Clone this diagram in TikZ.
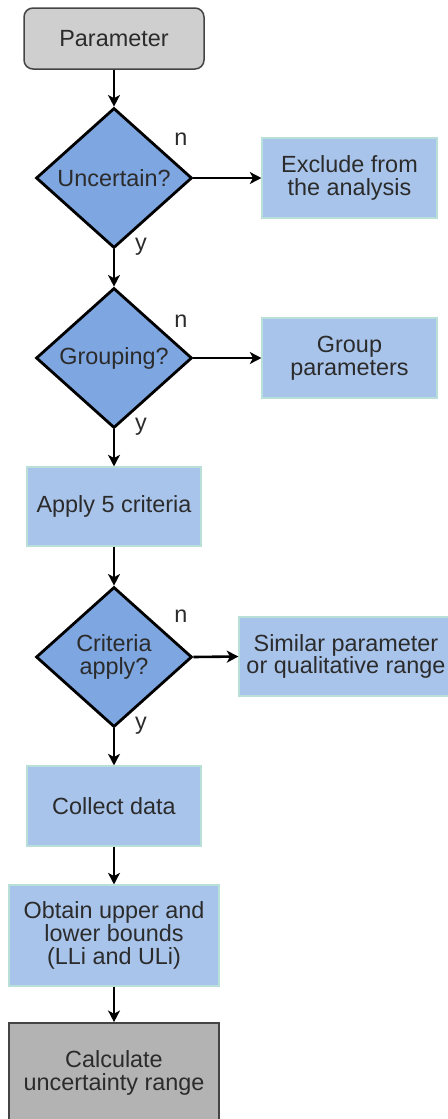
\documentclass[tikz,border=0pt]{standalone}
\usepackage{fontspec}
\setmainfont{Liberation Sans}
\usetikzlibrary{shapes.geometric,arrows.meta}
\definecolor{txt}{HTML}{2B2B2B}
\definecolor{lblue}{HTML}{A9C4EB}
\definecolor{lstroke}{HTML}{B8E0D8}
\definecolor{dblue}{HTML}{7EA6E0}
\definecolor{pgray}{HTML}{CFCFCF}
\definecolor{cgray}{HTML}{B3B3B3}
\definecolor{sgray}{HTML}{444444}
\begin{document}
\begin{tikzpicture}[x=0.5pt,y=-0.5pt,
  every node/.style={font=\fontsize{11.7}{11.3}\selectfont, text=txt, align=center, inner sep=0pt},
  startbox/.style={draw=sgray, fill=pgray, line width=0.75pt, rounded corners=4.5pt, minimum width=90pt, minimum height=30.5pt},
  lbox/.style={draw=lstroke, fill=lblue, line width=0.6pt},
  decision/.style={shape=diamond, draw=black, fill=dblue, line width=1.4pt, minimum width=78pt, minimum height=70pt, aspect=1.1},
  endbox/.style={draw=sgray, fill=cgray, line width=0.9pt, minimum width=105pt, minimum height=50pt},
  conn/.style={draw=black, line width=0.75pt, -{Stealth[length=5.8pt,width=6pt,inset=1.6pt]}},
  yn/.style={text=txt}
]
\clip (0,0) rectangle (448,1119);
\useasboundingbox (0,0) rectangle (448,1119);

\node[startbox] (param) at (114,38.5) {Parameter};
\node[decision] (d1) at (114,178) {Uncertain?};
\node[lbox, minimum width=87.5pt, minimum height=40pt] (excl) at (349.5,178) {Exclude from\\the analysis};
\node[decision] (d2) at (114,358) {Grouping?};
\node[lbox, minimum width=87.5pt, minimum height=40pt] (group) at (349.5,358) {Group\\parameters};
\node[lbox, minimum width=87pt, minimum height=39.5pt] (apply) at (114,506.5) {Apply 5 criteria};
\node[decision] (d3) at (114,657) {Criteria\\apply?};
\node[lbox, minimum width=107pt, minimum height=39.5pt] (sim) at (346,656.5) {Similar parameter\\or qualitative range};
\node[lbox, minimum width=87pt, minimum height=40pt] (coll) at (114,806) {Collect data};
\node[lbox, minimum width=105pt, minimum height=50.5pt] (obt) at (114,935.5) {Obtain upper and\\lower bounds\\(LLi and ULi)};
\node[endbox] (calc) at (114,1073) {Calculate\\uncertainty range};

\node[yn] (n1) at (181,139) {n};
\node[yn] (y1) at (141,247) {y};
\node[yn] (n2) at (181,321) {n};
\node[yn] (y2) at (141,427) {y};
\node[yn] (n3) at (181,616) {n};
\node[yn] (y3) at (141,726) {y};

\draw[conn] (param) -- (d1.north);
\draw[conn] (d1.east) -- (excl.west);
\draw[conn] (d1.south) -- (d2.north);
\draw[conn] (d2.east) -- (group.west);
\draw[conn] (d2.south) -- (apply.north);
\draw[conn] (apply) -- (d3.north);
\draw[conn, line width=1.3pt] (d3.east) -- (sim.west);
\draw[conn] (d3.south) -- (coll.north);
\draw[conn] (coll) -- (obt);
\draw[conn] (obt) -- (calc);
\end{tikzpicture}
\end{document}
